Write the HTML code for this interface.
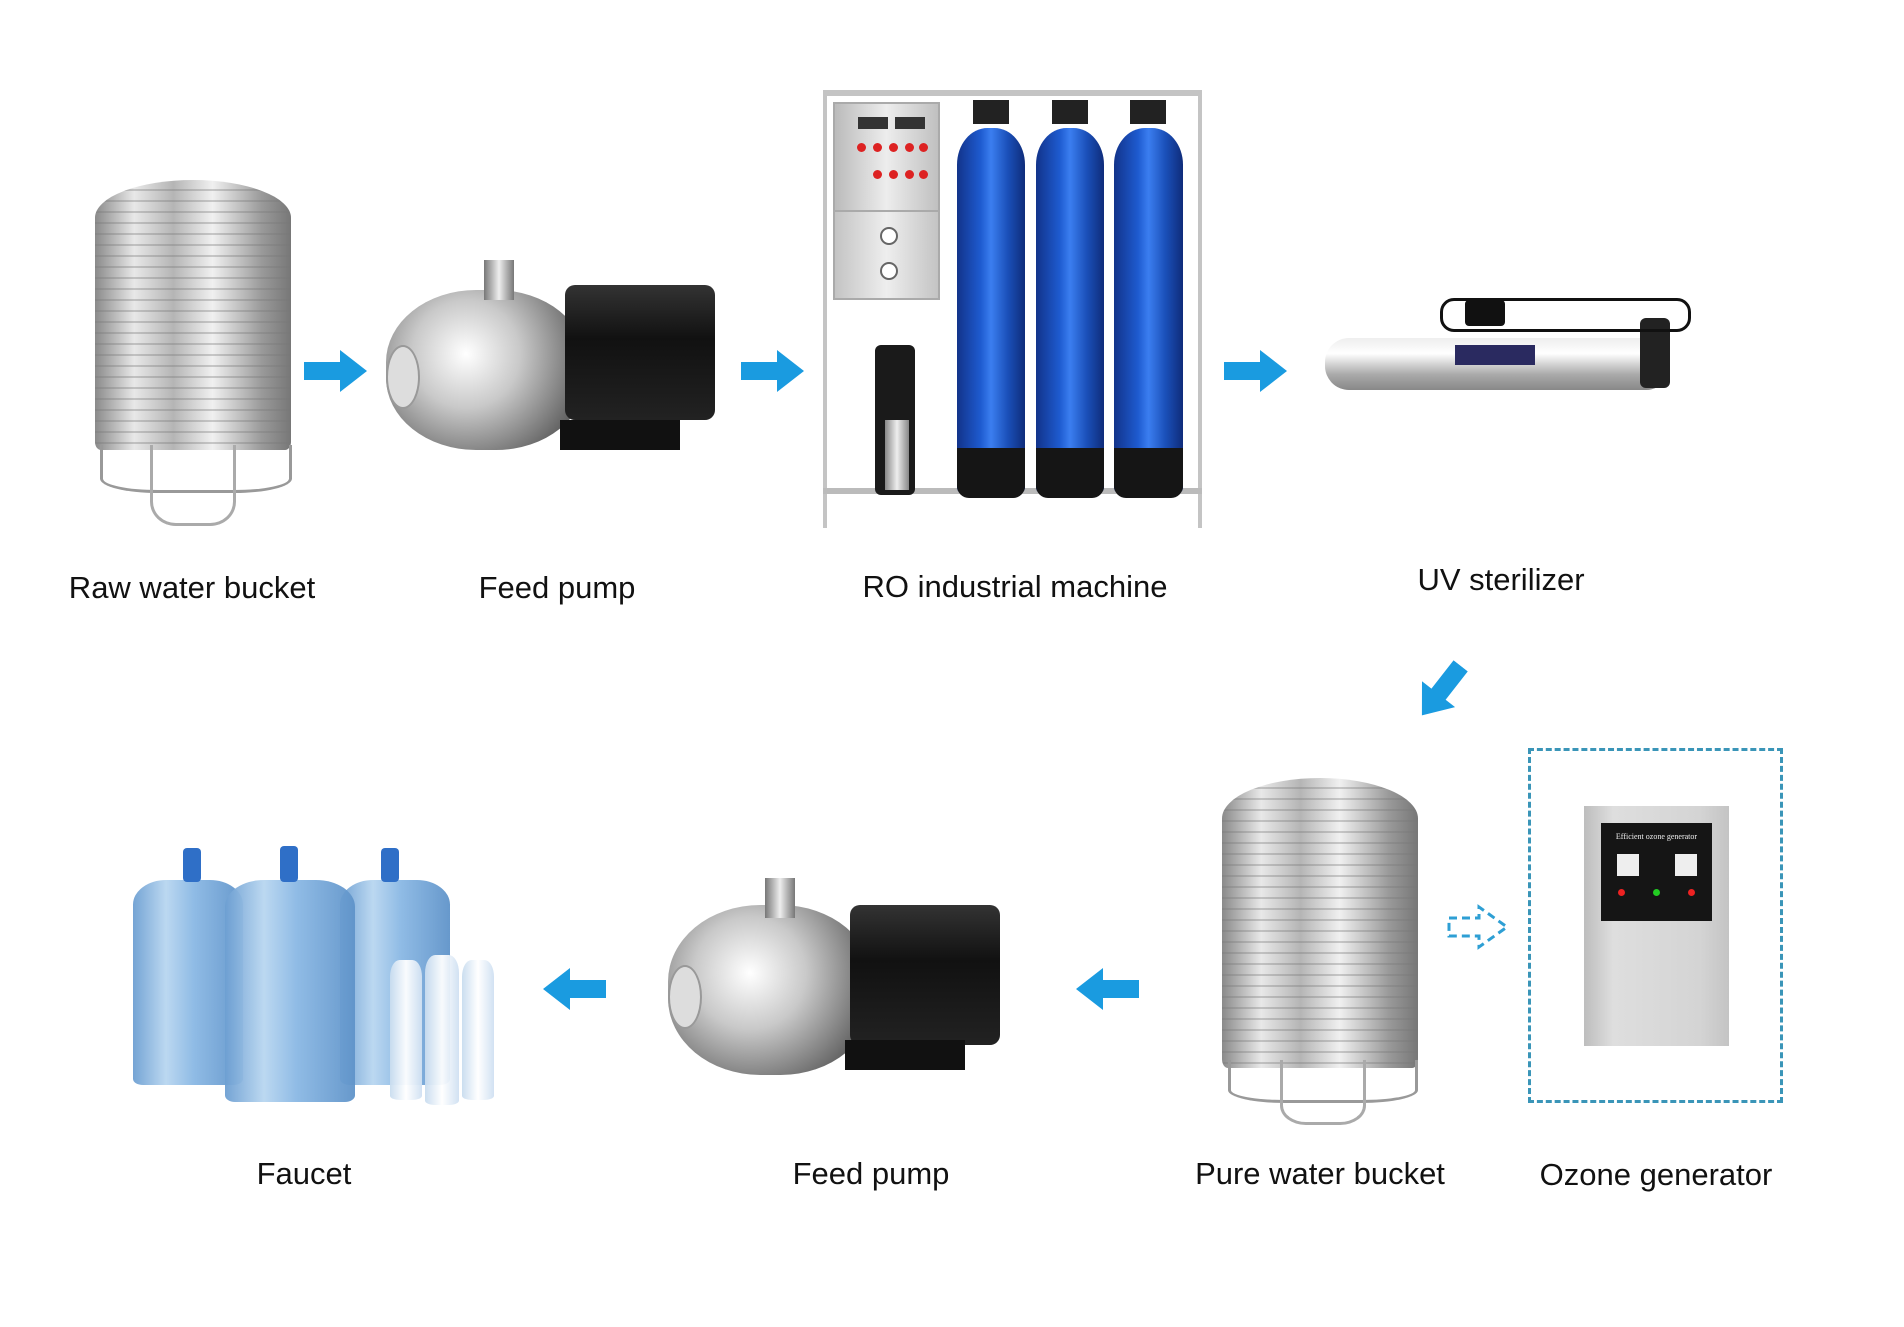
<!DOCTYPE html>
<html><head><meta charset="utf-8"><style>
body{margin:0;width:1904px;height:1327px;background:#fff;position:relative;overflow:hidden;font-family:"Liberation Sans",sans-serif}
.a{position:absolute}
.lbl{position:absolute;font-size:31px;color:#111;white-space:nowrap;transform:translateX(-50%)}
.tank{position:absolute;border-radius:50% 50% 6px 6px/ 14% 14% 3% 3%;background:repeating-linear-gradient(180deg,rgba(255,255,255,0) 0 9px,rgba(120,120,120,.35) 9px 11px),linear-gradient(90deg,#8a8a8a,#e8e8e8 20%,#b5b5b5 40%,#f0f0f0 60%,#9a9a9a 85%,#777)}
.leg{position:absolute;border:3px solid #999;border-top:none;border-radius:0 0 30% 30%}
.pumpS{position:absolute;border-radius:45%;background:radial-gradient(circle at 40% 40%,#fff,#c9c9c9 35%,#6a6a6a 75%,#333)}
.motor{position:absolute;background:linear-gradient(180deg,#333,#111 40%,#222);border-radius:10px}
.cyl{position:absolute;border-radius:45% 45% 10px 10px/10% 10% 2% 2%;background:linear-gradient(90deg,#12338a,#1e5bd0 35%,#3b7ef0 50%,#1a4fb8 75%,#0f2c7a)}
.cylb{position:absolute;background:#151515;border-radius:0 0 12px 12px}
.bottle{position:absolute;border-radius:30% 30% 10px 10px/12% 12% 3% 3%;background:linear-gradient(90deg,#6d9fd2,#b8d6f0 30%,#8ab8e4 55%,#5f93c9);opacity:.95}
.btn{position:absolute;width:9px;height:9px;border-radius:50%;background:#d22}
</style></head><body>

<!-- Raw water tank -->
<div class="tank" style="left:95px;top:180px;width:196px;height:270px"></div>
<div class="leg" style="left:100px;top:445px;width:186px;height:45px"></div>
<div class="leg" style="left:150px;top:445px;width:80px;height:78px;border-color:#aaa"></div>
<div class="lbl" style="left:192px;top:570px">Raw water bucket</div>

<!-- arrows row 1 -->
<svg class="a" style="left:304px;top:350px" width="64" height="42"><polygon points="0,12 36,12 36,0 63,21 36,42 36,30 0,30" fill="#1a9be0"/></svg>
<svg class="a" style="left:741px;top:350px" width="64" height="42"><polygon points="0,12 36,12 36,0 63,21 36,42 36,30 0,30" fill="#1a9be0"/></svg>
<svg class="a" style="left:1224px;top:350px" width="64" height="42"><polygon points="0,12 36,12 36,0 63,21 36,42 36,30 0,30" fill="#1a9be0"/></svg>

<!-- Pump 1 -->
<div class="pumpS" style="left:386px;top:290px;width:200px;height:160px"></div>
<div class="a" style="left:484px;top:260px;width:30px;height:40px;background:linear-gradient(90deg,#777,#eee,#777)"></div>
<div class="motor" style="left:565px;top:285px;width:150px;height:135px"></div>
<div class="a" style="left:560px;top:420px;width:120px;height:30px;background:#111"></div>
<div class="a" style="left:386px;top:345px;width:30px;height:60px;border-radius:50%;background:#ddd;border:2px solid #999"></div>
<div class="lbl" style="left:557px;top:570px">Feed pump</div>

<!-- RO machine -->
<div class="a" style="left:823px;top:90px;width:379px;height:438px;border:4px solid #c4c4c4;border-top-width:6px;border-bottom:none;box-sizing:border-box"></div>
<div class="a" style="left:823px;top:488px;width:379px;height:6px;background:#bbb"></div>
<div class="a" style="left:833px;top:102px;width:107px;height:196px;background:linear-gradient(90deg,#bbb,#ededed,#c0c0c0);border:2px solid #aaa;box-sizing:border-box"></div>
<div class="a" style="left:858px;top:117px;width:30px;height:12px;background:#333"></div>
<div class="a" style="left:895px;top:117px;width:30px;height:12px;background:#333"></div>
<div class="btn" style="left:857px;top:143px"></div><div class="btn" style="left:873px;top:143px"></div><div class="btn" style="left:889px;top:143px"></div><div class="btn" style="left:905px;top:143px"></div><div class="btn" style="left:919px;top:143px"></div>
<div class="btn" style="left:873px;top:170px"></div><div class="btn" style="left:889px;top:170px"></div><div class="btn" style="left:905px;top:170px"></div><div class="btn" style="left:919px;top:170px"></div>
<div class="a" style="left:833px;top:210px;width:107px;height:90px;background:linear-gradient(90deg,#c4c4c4,#eee,#c4c4c4);border:2px solid #aaa;box-sizing:border-box"></div>
<div class="a" style="left:880px;top:227px;width:14px;height:14px;border-radius:50%;background:#fff;border:2px solid #666"></div>
<div class="a" style="left:880px;top:262px;width:14px;height:14px;border-radius:50%;background:#fff;border:2px solid #666"></div>
<div class="a" style="left:875px;top:345px;width:40px;height:150px;background:#1a1a1a;border-radius:6px"></div>
<div class="a" style="left:885px;top:420px;width:24px;height:70px;background:linear-gradient(90deg,#888,#eee,#888)"></div>
<div class="cyl" style="left:957px;top:128px;width:68px;height:367px"></div>
<div class="cylb" style="left:957px;top:448px;width:68px;height:50px"></div>
<div class="cyl" style="left:1036px;top:128px;width:68px;height:367px"></div>
<div class="cylb" style="left:1036px;top:448px;width:68px;height:50px"></div>
<div class="cyl" style="left:1114px;top:128px;width:69px;height:367px"></div>
<div class="cylb" style="left:1114px;top:448px;width:69px;height:50px"></div>
<div class="a" style="left:973px;top:100px;width:36px;height:24px;background:#222"></div>
<div class="a" style="left:1052px;top:100px;width:36px;height:24px;background:#222"></div>
<div class="a" style="left:1130px;top:100px;width:36px;height:24px;background:#222"></div>
<div class="lbl" style="left:1015px;top:569px">RO industrial machine</div>

<!-- UV -->
<div class="a" style="left:1325px;top:338px;width:345px;height:52px;border-radius:24px;background:linear-gradient(180deg,#eee,#fff 30%,#aaa 70%,#888)"></div>
<div class="a" style="left:1640px;top:318px;width:30px;height:70px;background:#222;border-radius:6px"></div>
<div class="a" style="left:1455px;top:345px;width:80px;height:20px;background:#2a2a60"></div>
<div class="a" style="left:1440px;top:298px;width:245px;height:28px;border:3px solid #111;border-radius:14px"></div>
<div class="a" style="left:1465px;top:300px;width:40px;height:26px;background:#111;border-radius:4px"></div>
<div class="lbl" style="left:1501px;top:562px">UV sterilizer</div>

<!-- diagonal arrow -->
<svg class="a" style="left:1409px;top:670px;transform:rotate(128deg)" width="64" height="42"><polygon points="0,12 36,12 36,0 63,21 36,42 36,30 0,30" fill="#1a9be0"/></svg>

<!-- Pure tank -->
<div class="tank" style="left:1222px;top:778px;width:196px;height:290px"></div>
<div class="leg" style="left:1228px;top:1060px;width:184px;height:40px"></div>
<div class="leg" style="left:1280px;top:1060px;width:80px;height:62px;border-color:#aaa"></div>
<div class="lbl" style="left:1320px;top:1156px">Pure water bucket</div>

<!-- dashed arrow -->
<svg class="a" style="left:1447px;top:904px" width="64" height="46"><polygon points="2,14 32,14 32,3 60,23 32,43 32,32 2,32" fill="none" stroke="#2e9fd4" stroke-width="3" stroke-dasharray="8,5"/></svg>

<!-- Ozone -->
<div class="a" style="left:1528px;top:748px;width:255px;height:355px;border:3px dashed #3a95b8;box-sizing:border-box"></div>
<div class="a" style="left:1584px;top:806px;width:145px;height:240px;background:linear-gradient(90deg,#bdbdbd,#dedede 20%,#d4d4d4 80%,#c4c4c4)"></div>
<div class="a" style="left:1601px;top:823px;width:111px;height:98px;background:#151515"></div>
<div class="a" style="left:1601px;top:832px;width:111px;text-align:center;color:#eee;font-family:'Liberation Serif',serif;font-size:8px">Efficient ozone generator</div>
<div class="a" style="left:1617px;top:854px;width:22px;height:22px;background:#eee"></div>
<div class="a" style="left:1675px;top:854px;width:22px;height:22px;background:#eee"></div>
<div class="a" style="left:1618px;top:889px;width:7px;height:7px;border-radius:50%;background:#e22"></div>
<div class="a" style="left:1653px;top:889px;width:7px;height:7px;border-radius:50%;background:#2c2"></div>
<div class="a" style="left:1688px;top:889px;width:7px;height:7px;border-radius:50%;background:#e22"></div>
<div class="lbl" style="left:1656px;top:1157px">Ozone generator</div>

<!-- left arrows row 2 -->
<svg class="a" style="left:1076px;top:968px" width="64" height="42"><polygon points="63,12 27,12 27,0 0,21 27,42 27,30 63,30" fill="#1a9be0"/></svg>
<svg class="a" style="left:543px;top:968px" width="64" height="42"><polygon points="63,12 27,12 27,0 0,21 27,42 27,30 63,30" fill="#1a9be0"/></svg>

<!-- Pump 2 -->
<div class="pumpS" style="left:668px;top:905px;width:205px;height:170px"></div>
<div class="a" style="left:765px;top:878px;width:30px;height:40px;background:linear-gradient(90deg,#777,#eee,#777)"></div>
<div class="motor" style="left:850px;top:905px;width:150px;height:140px"></div>
<div class="a" style="left:845px;top:1040px;width:120px;height:30px;background:#111"></div>
<div class="a" style="left:668px;top:965px;width:30px;height:60px;border-radius:50%;background:#ddd;border:2px solid #999"></div>
<div class="lbl" style="left:871px;top:1156px">Feed pump</div>

<!-- Bottles -->
<div class="bottle" style="left:133px;top:880px;width:110px;height:205px"></div>
<div class="bottle" style="left:340px;top:880px;width:110px;height:205px"></div>
<div class="bottle" style="left:225px;top:880px;width:130px;height:222px"></div>
<div class="a" style="left:183px;top:848px;width:18px;height:34px;background:#2f6fc7;border-radius:4px"></div>
<div class="a" style="left:280px;top:846px;width:18px;height:36px;background:#2f6fc7;border-radius:4px"></div>
<div class="a" style="left:381px;top:848px;width:18px;height:34px;background:#2f6fc7;border-radius:4px"></div>
<div class="bottle" style="left:390px;top:960px;width:32px;height:140px;background:linear-gradient(90deg,#c8dcef,#fff,#cfe0f2)"></div>
<div class="bottle" style="left:425px;top:955px;width:34px;height:150px;background:linear-gradient(90deg,#c8dcef,#fff,#cfe0f2)"></div>
<div class="bottle" style="left:462px;top:960px;width:32px;height:140px;background:linear-gradient(90deg,#c8dcef,#fff,#cfe0f2)"></div>
<div class="lbl" style="left:304px;top:1156px">Faucet</div>

</body></html>
